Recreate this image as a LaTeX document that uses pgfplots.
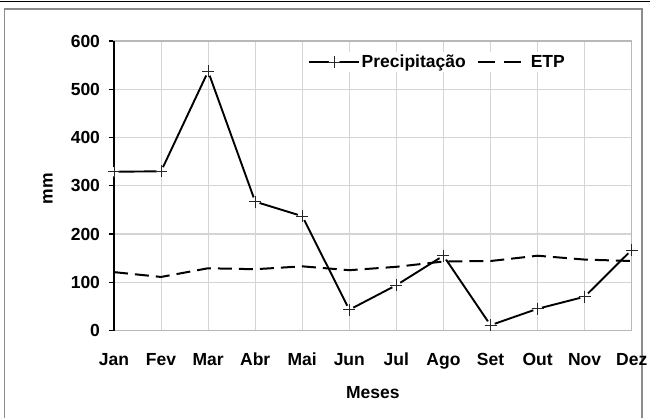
\documentclass[border=0pt]{standalone}
\usepackage{pgfplots}
\pgfplotsset{compat=1.18}
\usepackage{fontspec}
\setmainfont{Liberation Sans}
\begin{document}
\begin{tikzpicture}[x=1pt,y=1pt]
\path[use as bounding box] (0,0) rectangle (650,418);
\draw[black,line width=1.3pt] (0,416.6) -- (650,416.6);
\draw[black!45,line width=1.8pt] (4.5,0) -- (4.5,409.3) -- (641.8,409.3) -- (641.8,0);
\begin{axis}[
  at={(114pt,87.5pt)}, anchor=south west, scale only axis,
  width=517.7pt, height=289.5pt,
  xmin=0, xmax=11, ymin=0, ymax=600,
  xtick={0,...,11},
  xticklabels={Jan,Fev,Mar,Abr,Mai,Jun,Jul,Ago,Set,Out,Nov,Dez},
  ytick={0,100,...,600},
  xtick pos=bottom, ytick pos=left, tick align=outside,
  grid=major, grid style={black!17, line width=1.1pt},
  axis line style={black!28, line width=1.1pt},
  ytick style={black, line width=1.2pt}, major tick length=5.5pt,
  xtick style={draw=none},
  ticklabel style={font=\bfseries\fontsize{17.5}{17.5}\selectfont},
  yticklabel style={xshift=-5pt},
  xticklabel style={yshift=-13.5pt},
  /pgf/number format/assume math mode=true,
  xlabel={Meses}, ylabel={mm},
  label style={font=\bfseries\fontsize{17.5}{17.5}\selectfont},
  xlabel style={at={(axis description cs:0.5,0)}, anchor=center, yshift=-62.5pt},
  ylabel style={at={(axis description cs:-0.1275,0.49)}, anchor=center},
  legend columns=2,
  legend style={at={(axis description cs:0.6245,0.9264)}, anchor=center, draw=none, fill=white,
    font=\bfseries\fontsize{17.5}{17.5}\selectfont, inner sep=1pt,
    nodes={inner xsep=1.5pt},
    /tikz/every even column/.append style={column sep=10pt}},
  clip=false,
]
\addplot[black, line width=1.9pt, mark=+, mark size=6pt, mark options={solid, line width=0.7pt, black!85},
  legend image code/.code={\draw[black, line width=1.9pt] (0pt,0pt) -- (50pt,0pt);
    \fill[white] (25pt,0pt) circle (4.5pt);
    \draw[black!85, line width=0.7pt] (19pt,0pt) -- (31pt,0pt) (25pt,-6pt) -- (25pt,6pt);}] coordinates {
(0,329) (1,330) (2,537) (3,267) (4,237) (5,43) (6,94) (7,155) (8,11) (9,45) (10,70) (11,167)};
\addlegendentry{Precipitação}
\addplot[black, line width=2pt, dash pattern=on 14pt off 7pt, legend image code/.code={\draw[dash pattern=on 17pt off 9pt] (0pt,0pt) -- (50pt,0pt);}] coordinates {
(0,121) (1,111) (2,129) (3,127) (4,133) (5,125) (6,132) (7,143) (8,144) (9,155) (10,147) (11,144)};
\addlegendentry{ETP}
\draw[black, line width=1.6pt] (rel axis cs:0,0) -- (rel axis cs:0,1);
\addplot[white, only marks, mark=*, mark size=4.5pt, mark options={fill=white, draw=white}, forget plot] coordinates {
(0,329) (1,330) (2,537) (3,267) (4,237) (5,43) (6,94) (7,155) (8,11) (9,45) (10,70) (11,167)};
\addplot[black!85, only marks, mark=+, mark size=6pt, mark options={line width=0.7pt, black!85}, forget plot] coordinates {
(0,329) (1,330) (2,537) (3,267) (4,237) (5,43) (6,94) (7,155) (8,11) (9,45) (10,70) (11,167)};
\end{axis}
\end{tikzpicture}
\end{document}
